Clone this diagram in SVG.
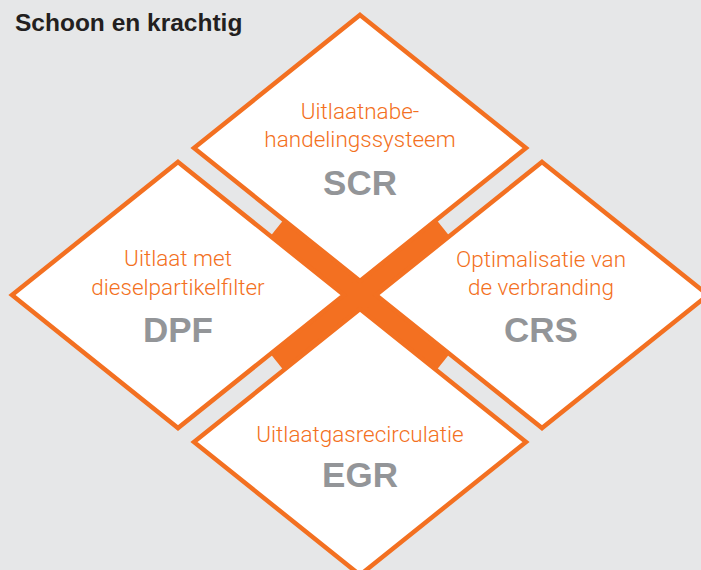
<svg xmlns="http://www.w3.org/2000/svg" width="701" height="570" viewBox="0 0 701 570">
<style>
.dia{fill:#ffffff;stroke:#f37021;stroke-width:4.5;stroke-linejoin:miter}
.sub{font-family:Roboto,"Liberation Sans",Arial,sans-serif;font-weight:300;font-size:22.5px;fill:#f37021;text-anchor:middle}
.abbr{font-family:"Liberation Sans",Arial,sans-serif;font-size:35px;font-weight:bold;fill:#939598;text-anchor:middle}
.title{font-family:"Liberation Sans",Arial,sans-serif;font-size:24.5px;font-weight:bold;fill:#231f20}
.arm{stroke:#f37021;stroke-width:30;stroke-linecap:butt}
</style>
<rect x="0" y="0" width="701" height="570" fill="#e6e7e8"/>
<text class="title" x="15" y="31">Schoon en krachtig</text>
<g id="connectors">
<line class="arm" x1="277" y1="228" x2="443" y2="362"/>
<line class="arm" x1="443" y1="228" x2="277" y2="362"/>
</g>
<g id="node-scr">
<path class="dia" d="M360,15 L526,148 L360,281 L194,148 Z"/>
<text class="sub" x="360" y="119">Uitlaatnabe-</text>
<text class="sub" x="360" y="147">handelingssysteem</text>
<text class="abbr" x="360" y="195">SCR</text>
</g>
<g id="node-dpf">
<path class="dia" d="M178,162 L344,295 L178,428 L12,295 Z"/>
<text class="sub" x="178" y="266">Uitlaat met</text>
<text class="sub" x="178" y="295">dieselpartikelfilter</text>
<text class="abbr" x="178" y="342">DPF</text>
</g>
<g id="node-crs">
<path class="dia" d="M542,162 L708,295 L542,428 L376,295 Z"/>
<text class="sub" x="541" y="267">Optimalisatie van</text>
<text class="sub" x="541" y="295">de verbranding</text>
<text class="abbr" x="541" y="342">CRS</text>
</g>
<g id="node-egr">
<path class="dia" d="M360,309 L526,442 L360,575 L194,442 Z"/>
<text class="sub" x="360" y="442">Uitlaatgasrecirculatie</text>
<text class="abbr" x="360" y="487">EGR</text>
</g>
</svg>
